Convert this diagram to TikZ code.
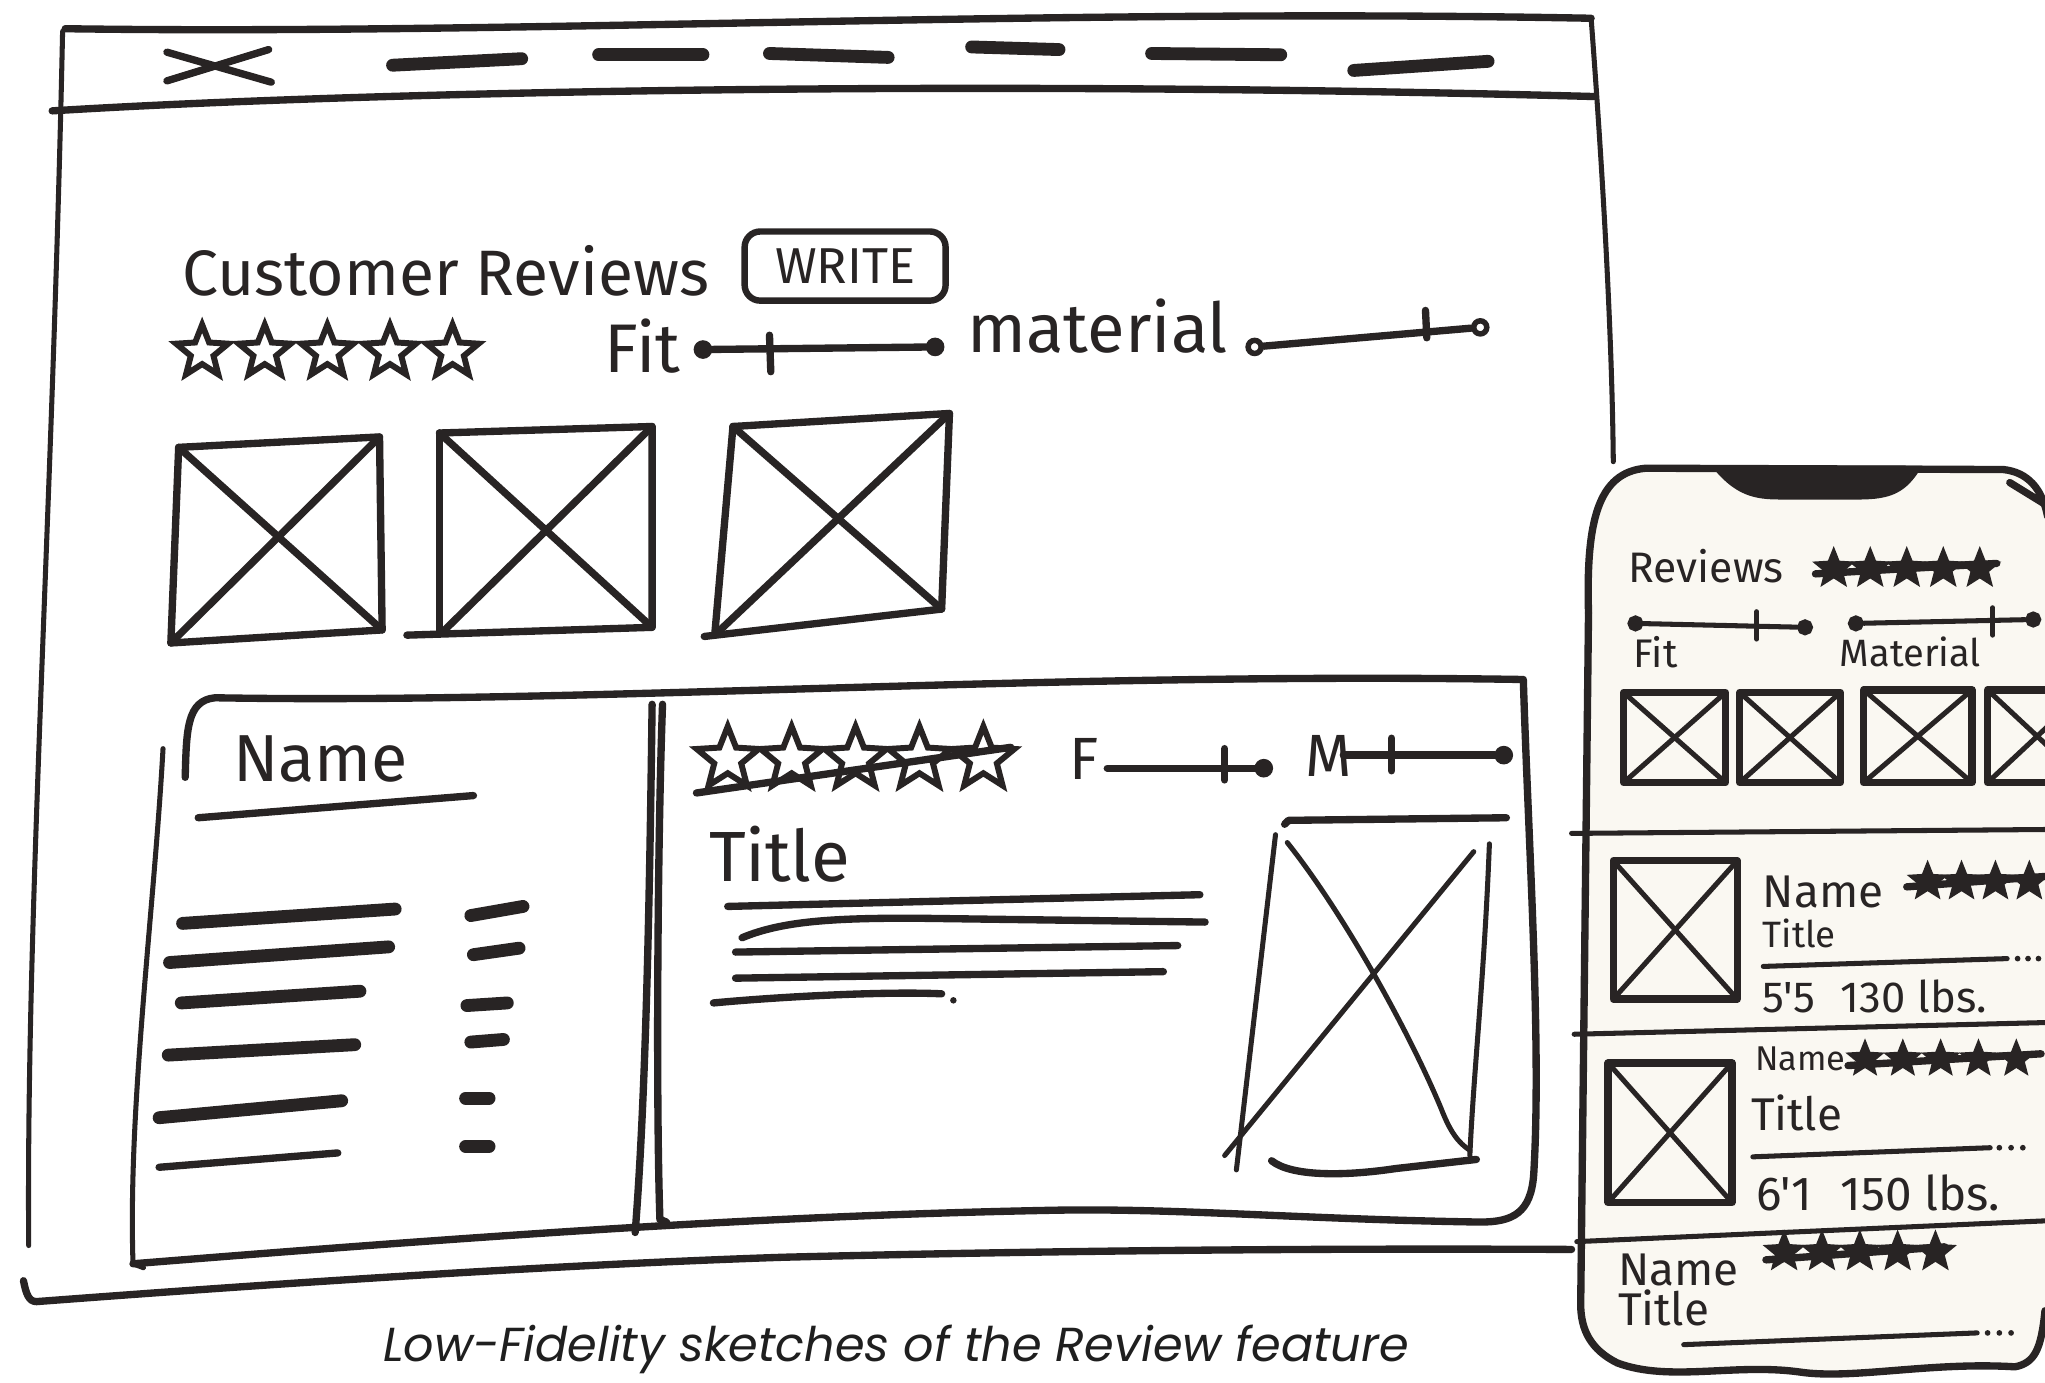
\documentclass[tikz,border=0pt]{standalone}
\usepackage{fontspec}
\newfontfamily\handfont{Fira Sans}
\newfontfamily\capfont{Poppins}
\usepackage{tikz}
\usetikzlibrary{shapes.geometric, positioning}
\usepackage{xcolor}
\definecolor{inkcolor}{RGB}{40,36,36}
\definecolor{papercolor}{RGB}{250,248,242}
\newcommand{\handsize}[1]{\fontsize{#1}{#1}\selectfont}

\begin{document}
\begin{tikzpicture}[x=0.01cm, y=-0.01cm]
  \tikzset{
    sketch/.style={
      draw=inkcolor,
      line width=1.6pt,
      line cap=round,
      line join=round
    },
    sketchthin/.style={
      draw=inkcolor,
      line width=1.1pt,
      line cap=round,
      line join=round
    },
    sketchbold/.style={
      draw=inkcolor,
      line width=2.8pt,
      line cap=round
    },
    handlabel/.style={
      font={\handfont\handsize{#1}},
      text=inkcolor,
      inner sep=0pt,
      anchor=west
    },
    ratingstar/.style={
      star, star points=5, star point ratio=2.3,
      draw=inkcolor, line width=1.3pt,
      inner sep=0pt, minimum size=#1
    },
    phonestar/.style={
      star, star points=5, star point ratio=2.3,
      draw=inkcolor, fill=inkcolor, line width=0.8pt,
      inner sep=0pt, minimum size=#1
    },
    sliderdot/.style={
      circle, draw=inkcolor, line width=1.2pt,
      inner sep=0pt, minimum size=0.1cm, fill=#1
    }
  }

  % Page
  \fill[white] (0,0) rectangle (1568,1060);
  \useasboundingbox (0,0) rectangle (1568,1060);
  \clip (0,0) rectangle (1568,1060);

  % Browser window frame
  \draw[sketch] (50,22) .. controls (400,27) and (800,6) .. (1220,14);
  \draw[sketchthin] (48,24) .. controls (40,400) and (20,700) .. (22,955);
  \draw[sketchthin] (1220,14) .. controls (1228,120) and (1236,250) .. (1237,354);
  \draw[sketch] (40,85) .. controls (250,72) and (700,60) .. (1222,74);
  \draw[sketch] (18,982) .. controls (20,992) and (22,998) .. (28,998)
    .. controls (200,985) and (420,970) .. (600,964)
    .. controls (800,959) and (1000,957) .. (1205,958);

  % Close button and tabs
  \draw[sketch] (128,40) -- (208,63);
  \draw[sketch] (128,62) -- (206,38);
  \draw[sketchbold] (301,50) -- (400,45);
  \draw[sketchbold] (459,42) -- (539,42);
  \draw[sketchbold] (590,41) -- (681,44);
  \draw[sketchbold] (745,36) -- (812,38);
  \draw[sketchbold] (883,41) -- (982,42);
  \draw[sketchbold] (1038,54) -- (1141,47);

  % Heading with write button
  \node[handlabel=14] (custrev) at (139,208) {Customer Reviews};
  \node[draw=inkcolor, line width=1.4pt, rounded corners=0.12cm,
        minimum width=1.54cm, minimum height=0.53cm, inner sep=0pt,
        font={\handfont\handsize{11}}, text=inkcolor] (writebtn) at (648,204) {WRITE};

  % Overall rating and sliders
  \foreach \i in {0,...,4}
    \node[ratingstar=0.42cm] (deskstar\i) at ({155+48*\i},270) {};
  \node[handlabel=15] (fitlabel) at (463,265) {Fit};
  \node[sliderdot=inkcolor] (fitstart) at (539,268) {};
  \node[sliderdot=inkcolor] (fitend) at (717,266) {};
  \draw[sketch] (fitstart) -- (fitend);
  \draw[sketch] (590,257) -- (591,285);
  \node[handlabel=15] (matlabel) at (741,250) {material};
  \node[sliderdot=white] (matstart) at (962,266) {};
  \node[sliderdot=white] (matend) at (1135,251) {};
  \draw[sketch] (matstart) -- (matend);
  \draw[sketch] (1093,238) -- (1094,259);

  % Photo placeholders
  \draw[sketch] (137,343) -- (291,335) -- (293,483) -- (131,493) -- cycle;
  \draw[sketch] (137,343) -- (293,483);
  \draw[sketch] (291,335) -- (131,493);
  \draw[sketch] (337,332) -- (500,327) -- (500,481) -- (312,487);
  \draw[sketch] (337,332) -- (337,485);
  \draw[sketch] (337,332) -- (500,481);
  \draw[sketch] (500,327) -- (340,484);
  \draw[sketch] (562,327) -- (728,317) -- (722,467) -- (540,488);
  \draw[sketch] (562,327) -- (548,487);
  \draw[sketch] (562,327) -- (722,467);
  \draw[sketch] (728,317) -- (548,487);

  % Review card
  \draw[sketch] (142,596) .. controls (143,560) and (143,537) .. (165,535)
    .. controls (450,540) and (800,515) .. (1168,521)
    .. controls (1172,650) and (1182,800) .. (1176,900)
    .. controls (1174,930) and (1160,937) .. (1135,937)
    .. controls (1000,935) and (900,926) .. (805,928)
    .. controls (600,932) and (400,945) .. (102,969);
  \draw[sketchthin] (125,574) .. controls (118,700) and (98,850) .. (102,969) -- (110,972);
  \draw[sketch] (500,540) .. controls (498,700) and (495,843) .. (487,945);
  \draw[sketch] (508,540) .. controls (504,650) and (503,850) .. (506,935) -- (511,937);

  % Reviewer column
  \node[handlabel=14.5] (revname) at (178,582) {Name};
  \draw[sketch] (152,627) -- (363,610);
  \draw[sketchbold] (140,708) -- (303,697);
  \draw[sketchbold] (130,738) -- (298,726);
  \draw[sketchbold] (139,769) -- (276,760);
  \draw[sketchbold] (129,809) -- (272,801);
  \draw[sketchbold] (122,857) -- (262,844);
  \draw[sketch] (122,895) -- (259,884);
  \draw[sketchbold] (361,702) -- (401,695);
  \draw[sketchbold] (363,732) -- (398,727);
  \draw[sketchbold] (358,771) -- (389,769);
  \draw[sketchbold] (361,799) -- (386,797);
  \draw[sketchbold] (357,842) -- (375,842);
  \draw[sketchbold] (357,879) -- (375,879);

  % Review body
  \foreach \i in {0,...,4}
    \node[ratingstar=0.5cm] (cardstar\i) at ({558+49*\i},582) {};
  \draw[sketch] (534,608) -- (775,573);
  \node[handlabel=13] (cardfit) at (819,582) {F};
  \node[sliderdot=inkcolor] (cardfitend) at (969,589) {};
  \draw[sketch] (849,589) -- (cardfitend);
  \draw[sketch] (939,574) -- (939,598);
  \node[handlabel=13] (cardmat) at (1000,580) {M};
  \node[sliderdot=inkcolor] (cardmatend) at (1153,579) {};
  \draw[sketch] (1030,579) -- (cardmatend);
  \draw[sketch] (1067,566) -- (1067,591);
  \node[handlabel=15.5] (cardtitle) at (543,655) {Title};
  \draw[sketch] (558,695) -- (920,686);
  \draw[sketch] (569,719) .. controls (600,706) and (640,704) .. (700,704) -- (924,707);
  \draw[sketch] (564,730) -- (903,725);
  \draw[sketch] (564,750) -- (892,745);
  \draw[sketch] (547,769) .. controls (600,764) and (680,760) .. (722,762);
  \fill[inkcolor] (731,767) circle (2.5);

  % Review photo
  \draw[sketch] (985,632) -- (988,629) -- (1155,627);
  \draw[sketchthin] (978,640) -- (948,897);
  \draw[sketchthin] (1142,647) .. controls (1138,750) and (1130,820) .. (1127,886);
  \draw[sketch] (975,890) .. controls (990,902) and (1030,902) .. (1070,896) -- (1132,889);
  \draw[sketchthin] (1130,653) -- (939,886);
  \draw[sketchthin] (987,646) .. controls (1030,700) and (1080,790) .. (1105,850)
    .. controls (1112,868) and (1118,876) .. (1127,882);

  % Phone sketch
  \fill[papercolor] (1218,470) .. controls (1216,400) and (1225,362) .. (1262,359)
    -- (1536,360) .. controls (1555,362) and (1566,375) .. (1570,396)
    -- (1580,396) -- (1580,1060) -- (1212,1060) -- cycle;
  \fill[white] (1200,1000) -- (1212,1000) .. controls (1212,1020) and (1220,1035) .. (1240,1045)
    -- (1240,1060) -- (1200,1060) -- cycle;
  \fill[white] (1545,1048) .. controls (1560,1045) and (1565,1035) .. (1568,1005)
    -- (1580,1005) -- (1580,1060) -- (1545,1060) -- cycle;
  \fill[white] (1240,1045) .. controls (1280,1060) and (1330,1045) .. (1380,1052)
    .. controls (1420,1058) and (1480,1044) .. (1545,1048) -- (1545,1060) -- (1240,1060) -- cycle;
  \draw[sketch] (1218,470) .. controls (1216,400) and (1225,362) .. (1262,359)
    -- (1536,360) .. controls (1555,362) and (1566,375) .. (1570,396);
  \draw[sketch] (1218,470) -- (1212,1000)
    .. controls (1212,1020) and (1220,1035) .. (1240,1045)
    .. controls (1280,1060) and (1330,1045) .. (1380,1052)
    .. controls (1420,1058) and (1480,1044) .. (1545,1048)
    .. controls (1560,1045) and (1565,1035) .. (1568,1005);
  \draw[sketch] (1541,370) -- (1567,386);
  \fill[inkcolor] (1312,357) .. controls (1330,380) and (1345,383) .. (1365,383)
    -- (1425,383) .. controls (1450,383) and (1462,378) .. (1474,357) -- cycle;

  % Phone header
  \node[handlabel=9.3] (phonerev) at (1248,434) {Reviews};
  \foreach \i in {0,...,4}
    \node[phonestar=0.27cm] (headstar\i) at ({1406+28*\i},436) {};
  \draw[sketch] (1392,440) -- (1531,432);
  \node[sliderdot=inkcolor, minimum size=0.08cm] (pfitstart) at (1254,478) {};
  \node[sliderdot=inkcolor, minimum size=0.08cm] (pfitend) at (1384,481) {};
  \draw[sketchthin] (pfitstart) -- (pfitend);
  \draw[sketchthin] (1347,469) -- (1347,490);
  \node[sliderdot=inkcolor, minimum size=0.08cm] (pmatstart) at (1423,478) {};
  \node[sliderdot=inkcolor, minimum size=0.08cm] (pmatend) at (1559,475) {};
  \draw[sketchthin] (pmatstart) -- (pmatend);
  \draw[sketchthin] (1528,466) -- (1528,487);
  \node[handlabel=8.7] (pfitlabel) at (1252,500) {Fit};
  \node[handlabel=8.3] (pmatlabel) at (1410,500) {Material};

  % Phone photo strip
  \draw[sketch] (1245,531) rectangle (1323,600);
  \draw[sketchthin] (1245,531) -- (1323,600);
  \draw[sketchthin] (1323,531) -- (1245,600);
  \draw[sketch] (1334,531) rectangle (1411,600);
  \draw[sketchthin] (1334,531) -- (1411,600);
  \draw[sketchthin] (1411,531) -- (1334,600);
  \draw[sketch] (1429,529) rectangle (1512,600);
  \draw[sketchthin] (1429,529) -- (1512,600);
  \draw[sketchthin] (1512,529) -- (1429,600);
  \draw[sketch] (1524,529) rectangle (1600,600);
  \draw[sketchthin] (1524,529) -- (1600,600);
  \draw[sketchthin] (1600,529) -- (1524,600);

  % Phone dividers
  \draw[sketchthin] (1205,639) -- (1570,636);
  \draw[sketchthin] (1207,793) -- (1570,784);
  \draw[sketchthin] (1209,952) -- (1570,936);

  % First phone review
  \draw[sketch] (1237,660) rectangle (1332,766);
  \draw[sketchthin] (1237,660) -- (1332,766);
  \draw[sketchthin] (1332,660) -- (1237,766);
  \node[handlabel=10] (pname1) at (1351,684) {Name};
  \foreach \i in {0,...,4}
    \node[phonestar=0.26cm] (revastar\i) at ({1478+26*\i},676) {};
  \draw[sketch] (1462,680) -- (1568,672);
  \node[handlabel=8] (ptitle1) at (1351,716) {Title};
  \draw[sketchthin] (1352,741) -- (1539,735);
  \foreach \i in {0,1,2}
    \fill[inkcolor] ({1547+8*\i},735) circle (2.2);
  \node[handlabel=9.5] (pstats1) at (1351,764) {5'5\hspace{0.6em}130 lbs.};

  % Second phone review
  \draw[sketch] (1233,815) rectangle (1328,922);
  \draw[sketchthin] (1233,815) -- (1328,922);
  \draw[sketchthin] (1328,815) -- (1233,922);
  \node[handlabel=7.5] (pname2) at (1345,812) {Name};
  \foreach \i in {0,...,4}
    \node[phonestar=0.24cm] (revbstar\i) at ({1430+29*\i},812) {};
  \draw[sketch] (1417,817) -- (1565,808);
  \node[handlabel=10] (ptitle2) at (1342,853) {Title};
  \draw[sketchthin] (1344,887) -- (1526,880);
  \foreach \i in {0,1,2}
    \fill[inkcolor] ({1533+9*\i},880) circle (2.2);
  \node[handlabel=10.4] (pstats2) at (1346,915) {6'1\hspace{0.6em}150 lbs.};

  % Third phone review
  \node[handlabel=10] (pname3) at (1240,974) {Name};
  \foreach \i in {0,...,4}
    \node[phonestar=0.27cm] (revcstar\i) at ({1368+29*\i},960) {};
  \draw[sketch] (1354,966) -- (1491,956);
  \node[handlabel=10] (ptitle3) at (1240,1003) {Title};
  \draw[sketchthin] (1291,1031) -- (1516,1022);
  \foreach \i in {0,1,2}
    \fill[inkcolor] ({1524+9*\i},1022) circle (2.2);

  % Caption
  \node[font={\capfont\itshape\handsize{10.4}}, text=black!88, anchor=north, inner sep=0pt]
    (caption) at (687,1015) {Low-Fidelity sketches of the Review feature};
\end{tikzpicture}
\end{document}
